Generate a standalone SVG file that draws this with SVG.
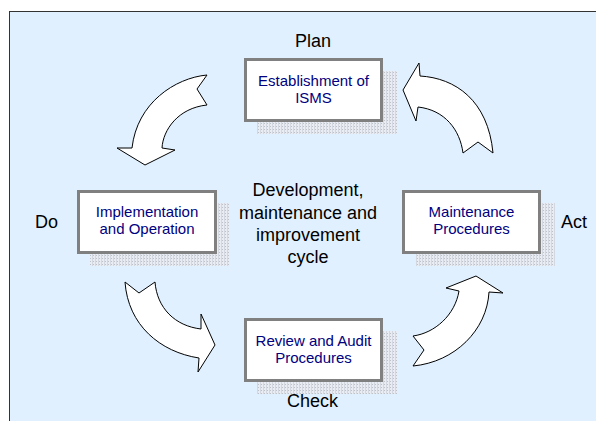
<svg xmlns="http://www.w3.org/2000/svg" width="596" height="421" viewBox="0 0 596 421">
<defs>
<pattern id="dots" width="3" height="3" patternUnits="userSpaceOnUse">
<rect width="3" height="3" fill="#e9edf3"/>
<rect width="1" height="1" fill="#bcc1ca"/>
<rect x="2" y="0" width="1" height="3" fill="#d3d8e0"/>
</pattern>
<style>
.shadow{fill:url(#dots);}
.box{fill:#fff;stroke:#808080;stroke-width:3;}
.bt{font-family:"Liberation Sans",Arial,sans-serif;font-size:15px;fill:#000080;text-anchor:middle;}
.lbl{font-family:"Liberation Sans",Arial,sans-serif;font-size:18px;fill:#000;}
.arrow{fill:#fff;stroke:#000;stroke-width:1;stroke-linejoin:miter;}
</style>
</defs>
<rect x="0" y="0" width="596" height="421" fill="#fff"/>
<rect x="9.5" y="11.5" width="600" height="420" fill="#E0F0FF" stroke="#333" stroke-width="1"/>

<g id="plan">
<rect class="shadow" x="257" y="71" width="140" height="63"/>
<rect class="box" x="245.5" y="59.5" width="136" height="61"/>
<text class="bt" x="313.5" y="86">Establishment of</text>
<text class="bt" x="313.5" y="103">ISMS</text>
</g>
<g id="do">
<rect class="shadow" x="90" y="203" width="140" height="63"/>
<rect class="box" x="78.5" y="191.5" width="137" height="61"/>
<text class="bt" x="147" y="217">Implementation</text>
<text class="bt" x="147" y="234">and Operation</text>
</g>
<g id="act">
<rect class="shadow" x="415" y="203" width="140" height="63"/>
<rect class="box" x="403.5" y="191.5" width="136" height="61"/>
<text class="bt" x="471.5" y="217">Maintenance</text>
<text class="bt" x="471.5" y="234">Procedures</text>
</g>
<g id="check">
<rect class="shadow" x="257" y="331" width="140" height="63"/>
<rect class="box" x="245.5" y="319.5" width="136" height="61"/>
<text class="bt" x="313.5" y="346">Review and Audit</text>
<text class="bt" x="313.5" y="363">Procedures</text>
</g>

<g id="labels">
<text class="lbl" x="313" y="47" text-anchor="middle">Plan</text>
<text class="lbl" x="35" y="228">Do</text>
<text class="lbl" x="561" y="228">Act</text>
<text class="lbl" x="312.5" y="407" text-anchor="middle">Check</text>
<text class="lbl" x="308" y="196" text-anchor="middle">Development,</text>
<text class="lbl" x="308" y="219" text-anchor="middle">maintenance and</text>
<text class="lbl" x="308" y="241" text-anchor="middle">improvement</text>
<text class="lbl" x="308" y="263" text-anchor="middle">cycle</text>
</g>

<g id="connectors">
<path class="arrow" d="M207,75 C175,78 137,103 132,148 L117,148 L145,165 L175,150 L162,148 C163,130 178,108 207,105 L197,89 Z"/>
<path class="arrow" d="M403,90 L419,63 L420,76 C455,78 488,100 493,153 L478,142 L463,153 C460,130 445,110 418,107 L416,121 Z"/>
<path class="arrow" d="M125,282 L139,293 L155,282 C157,308 175,326 201,329 L201,314 L215,345 L198,372 L199,358 C160,352 128,325 125,282 Z"/>
<path class="arrow" d="M413,366 L424,350 L413,336 C435,333 455,315 459,291 L446,288 L476,276 L503,293 L489,292 C487,330 455,362 413,366 Z"/>
</g>
</svg>
